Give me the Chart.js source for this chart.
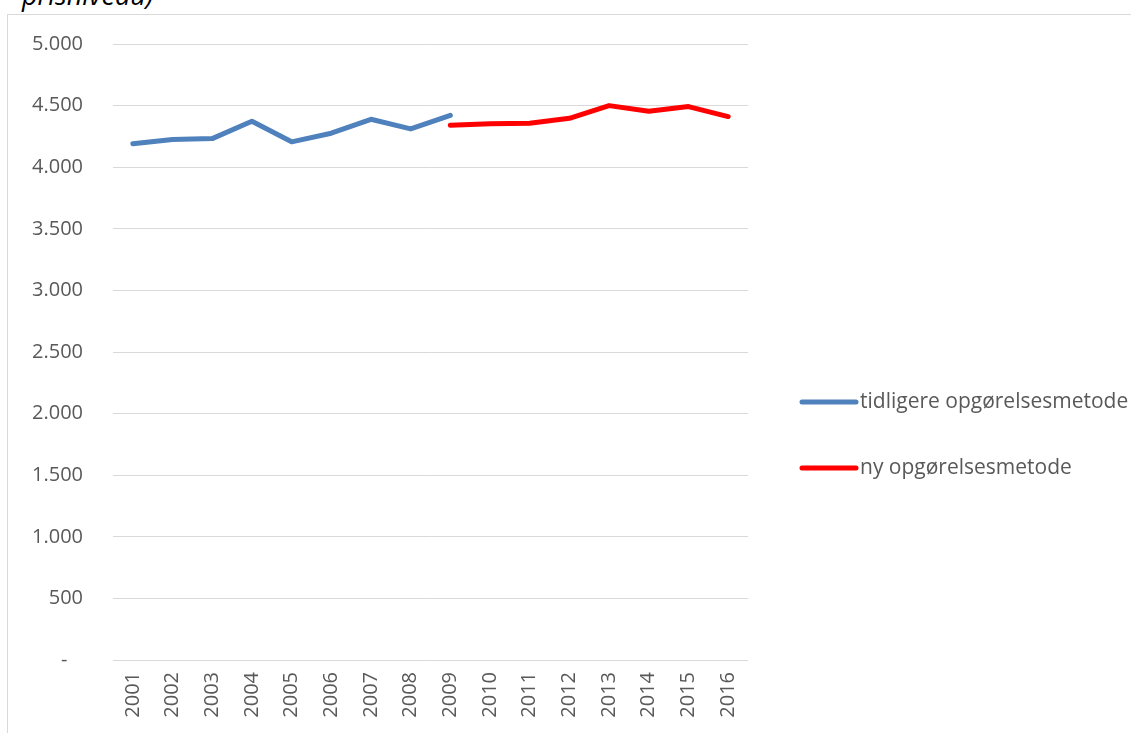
<!DOCTYPE html>
<html>
<head>
<meta charset="utf-8">
<script src="https://cdn.jsdelivr.net/npm/chart.js@4.4.0/dist/chart.umd.min.js"></script>
<style>
  html, body { margin: 0; padding: 0; background: #fff; overflow: hidden; }
  #wrap { position: relative; width: 1131px; height: 733px; }
  #frame { position: absolute; left: 7px; top: 14px; right: -5px; bottom: -5px;
           border-left: 1px solid #d9d9d9; border-top: 1px solid #d9d9d9; }
  #title { position: absolute; left: 22px; top: -24px; font-family: "Open Sans", sans-serif;
           font-style: italic; font-size: 27px; color: #000; white-space: nowrap; }
  canvas { position: absolute; left: 0; top: 0; }
</style>
</head>
<body>
<div id="wrap">
  <div id="title">prisniveau)</div>
  <div id="frame"></div>
  <canvas id="c" width="1131" height="733"></canvas>
</div>
<script>
const categories = ['2001','2002','2003','2004','2005','2006','2007','2008','2009','2010','2011','2012','2013','2014','2015','2016'];
const tidligere = [4190, 4224, 4232, 4373, 4206, 4276, 4389, 4311, 4421, null, null, null, null, null, null, null];
const ny = [null, null, null, null, null, null, null, null, 4340, 4352, 4357, 4397, 4500, 4454, 4492, 4411];
const seriesLabels = ['tidligere opgørelsesmetode', 'ny opgørelsesmetode'];
const yTickValues = [0, 500, 1000, 1500, 2000, 2500, 3000, 3500, 4000, 4500, 5000];
const yTickLabels = ['-   ', '500', '1.000', '1.500', '2.000', '2.500', '3.000', '3.500', '4.000', '4.500', '5.000'];

const FONT = '"Open Sans", sans-serif';
const TEXT = '#595959';
const GRID = '#d9d9d9';

const legendPlugin = {
  id: 'sideLegend',
  afterDraw(chart) {
    const ctx = chart.ctx;
    const x0 = 802, x1 = 856, tx = 860;
    const ys = [402, 468];
    ctx.save();
    chart.data.datasets.forEach((ds, i) => {
      ctx.beginPath();
      ctx.strokeStyle = ds.borderColor;
      ctx.lineWidth = 5;
      ctx.lineCap = 'round';
      ctx.moveTo(x0, ys[i]);
      ctx.lineTo(x1, ys[i]);
      ctx.stroke();
      ctx.fillStyle = TEXT;
      ctx.font = '21px ' + FONT;
      ctx.textBaseline = 'middle';
      ctx.textAlign = 'left';
      ctx.fillText(ds.label, tx, ys[i]);
    });
    ctx.restore();
  }
};

new Chart(document.getElementById('c'), {
  type: 'line',
  data: {
    labels: categories,
    datasets: [
      { label: seriesLabels[0], data: tidligere, borderColor: '#4f81bd', borderWidth: 5,
        pointRadius: 0, borderCapStyle: 'round', borderJoinStyle: 'round', tension: 0, spanGaps: false, fill: false },
      { label: seriesLabels[1], data: ny, borderColor: '#ff0000', borderWidth: 5,
        pointRadius: 0, borderCapStyle: 'round', borderJoinStyle: 'round', tension: 0, spanGaps: false, fill: false }
    ]
  },
  options: {
    responsive: false,
    animation: false,
    devicePixelRatio: 1,
    layout: { padding: { top: 44, right: 383, left: 0, bottom: 0 } },
    plugins: { legend: { display: false }, tooltip: { enabled: false }, title: { display: false } },
    scales: {
      x: {
        offset: true,
        grid: { display: false, drawTicks: false },
        border: { display: false },
        ticks: { minRotation: 90, maxRotation: 90, padding: 12, color: TEXT, font: { family: FONT, size: 20 } },
        afterFit(s) { s.height = 73; }
      },
      y: {
        min: 0, max: 5000,
        afterBuildTicks(s) { s.ticks = yTickValues.map(v => ({ value: v })); },
        grid: { color: GRID, lineWidth: 1, drawTicks: false },
        border: { display: false },
        ticks: {
          padding: 30, color: TEXT, font: { family: FONT, size: 20 },
          callback(v) { const i = yTickValues.indexOf(v); return i >= 0 ? yTickLabels[i] : ''; }
        },
        afterFit(s) { s.width = 113; }
      }
    }
  },
  plugins: [legendPlugin]
});
</script>
</body>
</html>
